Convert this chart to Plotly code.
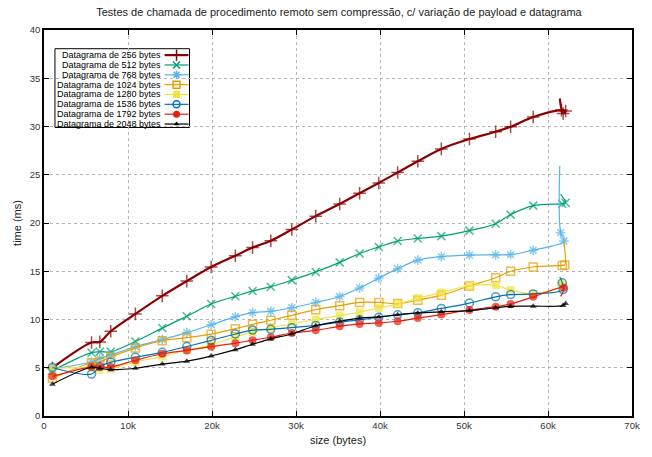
import plotly.graph_objects as go

# ---------------- data ----------------
x_main = [1000, 5660, 6640, 7950, 10880, 14080, 17000, 19900, 22780, 24830, 27000, 29500,
          32350, 35200, 37570, 39860, 42100, 44500, 47300, 50650, 53770, 55550, 58240]

names = ["Datagrama de 256 bytes", "Datagrama de 512 bytes", "Datagrama de 768 bytes",
         "Datagrama de 1024 bytes", "Datagrama de 1280 bytes", "Datagrama de 1536 bytes",
         "Datagrama de 1792 bytes", "Datagrama de 2048 bytes"]

y_256 = [5.0, 7.62, 7.68, 8.78, 10.58, 12.45, 13.98, 15.44, 16.6, 17.45, 18.16, 19.32,
         20.71, 21.97, 23.09, 24.15, 25.23, 26.4, 27.68, 28.7, 29.46, 29.97, 30.99]
y_512 = [4.7, 6.56, 6.66, 6.66, 7.72, 9.11, 10.34, 11.6, 12.4, 12.96, 13.4, 14.08,
         14.93, 15.92, 16.84, 17.52, 18.13, 18.4, 18.64, 19.21, 19.93, 20.87, 21.8]
y_768 = [4.9, 5.6, 5.95, 6.33, 7.18, 7.93, 8.64, 9.46, 10.28, 10.71, 10.85, 11.22,
         11.77, 12.38, 13.27, 14.29, 15.27, 16.15, 16.52, 16.68, 16.7, 16.73, 17.18]
y_1024 = [3.9, 5.52, 5.6, 6.12, 7.04, 7.8, 8.12, 8.48, 9.05, 9.5, 9.92, 10.43,
          11.02, 11.43, 11.77, 11.77, 11.65, 12.0, 12.52, 13.47, 14.32, 15.0, 15.44]
y_1280 = [4.95, 4.97, 4.8, 4.9, 5.6, 6.15, 6.84, 7.35, 8.2, 8.7, 9.13, 9.56,
          10.0, 10.41, 10.75, 11.19, 11.6, 12.21, 12.8, 13.5, 13.54, 13.05, 12.67]
y_1536 = [5.03, 4.35, 5.13, 5.56, 6.09, 6.6, 7.2, 7.84, 8.5, 8.9, 8.98, 9.15,
          9.39, 9.73, 9.97, 10.24, 10.48, 10.7, 11.15, 11.7, 12.35, 12.58, 12.65]
y_1792 = [4.11, 5.1, 5.08, 5.07, 5.78, 6.45, 6.8, 7.18, 7.55, 7.86, 8.16, 8.6,
          8.88, 9.29, 9.54, 9.65, 9.82, 10.15, 10.51, 10.99, 11.33, 11.6, 12.35]
y_2048 = [3.3, 5.05, 4.95, 4.8, 4.95, 5.38, 5.68, 6.22, 6.87, 7.43, 8.0, 8.5,
          9.35, 9.82, 10.14, 10.27, 10.5, 10.68, 10.8, 10.92, 11.22, 11.36, 11.38]

# final (repeated) measurements near the largest payload
end_x_256, end_y_256 = [61600, 62100, 61800], [31.7, 31.6, 31.35]
end_x_512, end_y_512 = [61700, 62100], [22.0, 22.1]
end_x_768, end_y_768 = [61900, 61500], [18.13, 19.0]
end_x_1024, end_y_1024 = [61700, 62000], [15.6, 15.65]
end_x_1280, end_y_1280 = [61800, 61600], [13.5, 13.7]
end_x_1536, end_y_1536 = [61800, 61700], [13.1, 13.8]
end_x_1792, end_y_1792 = [61900], [13.3]
end_x_2048, end_y_2048 = [61800, 62100], [11.45, 11.65]

# last sample of each run (line only)
tail_x = [61400, 61500, 61400, 61900, 61200, 61400, 61500, 61500]
tail_y = [32.9, 23.0, 25.9, 18.0, 13.9, 14.4, 12.4, 11.35]

x_ticks = [0, 10000, 20000, 30000, 40000, 50000, 60000, 70000]
y_ticks = [0, 5, 10, 15, 20, 25, 30, 35, 40]

# ---------------- style ----------------
colors = ["#8b0000", "#009e73", "#56b4e9", "#e69f00", "#f0e442", "#0072b2", "#e51e10", "#000000"]
symbols = ["cross-thin", "x-thin", "asterisk-open", "square-open", "square", "circle-open",
           "circle", "triangle-up"]
msizes = [9, 8, 8, 8, 8, 8, 8, 6]
lwidths = [2.2, 1.2, 1.2, 1.2, 1.2, 1.2, 1.2, 1.2]
OPEN = ("cross-thin", "x-thin", "asterisk-open", "square-open", "circle-open")

ys = [y_256, y_512, y_768, y_1024, y_1280, y_1536, y_1792, y_2048]
ends = [(end_x_256, end_y_256), (end_x_512, end_y_512), (end_x_768, end_y_768),
        (end_x_1024, end_y_1024), (end_x_1280, end_y_1280), (end_x_1536, end_y_1536),
        (end_x_1792, end_y_1792), (end_x_2048, end_y_2048)]

FONT = "Liberation Sans, Arial, sans-serif"
W, H = 652, 457
L, R, T, B = 44, 18, 30, 35
PW, PH = W - L - R, H - T - B

fig = go.Figure()

for i in range(len(names)):
    ex, ey = ends[i]
    xs = x_main + ex + [tail_x[i]]
    yv = ys[i] + ey + [tail_y[i]]
    n = len(xs)
    sizes = [msizes[i]] * (n - 1) + [0]
    fig.add_trace(go.Scatter(
        x=xs, y=yv, mode="lines+markers", name=names[i], showlegend=False,
        line=dict(color=colors[i], width=lwidths[i], shape="spline", smoothing=1),
        marker=dict(symbol=symbols[i], size=sizes, color=colors[i],
                    line=dict(color=colors[i], width=1.5 if symbols[i] in OPEN else 0)),
    ))

# ---------------- custom legend (gnuplot style: text right-aligned, sample at right) ----------------
box_l, box_r, box_t, box_b = 55, 190, 49, 129
row0, row_step = 55.5, 10.0
text_r, samp_l, samp_r = 163, 165, 189


def px(xp):
    return (xp - L) / PW


def py(yp):
    return (H - B - yp) / PH


fig.add_shape(type="rect", xref="paper", yref="paper", x0=px(box_l), x1=px(box_r),
              y0=py(box_b), y1=py(box_t), line=dict(color="black", width=1),
              fillcolor="white", layer="between")

for i, nm in enumerate(names):
    yy = py(row0 + row_step * i)
    fig.add_annotation(x=px(text_r), y=yy, xref="paper", yref="paper", text=nm,
                       showarrow=False, xanchor="right", yanchor="middle",
                       font=dict(family=FONT, size=9, color="#000"))
    fig.add_trace(go.Scatter(x=[px(samp_l), px(samp_r)], y=[yy, yy], xaxis="x2", yaxis="y2",
                             mode="lines", line=dict(color=colors[i], width=lwidths[i]),
                             showlegend=False, hoverinfo="skip"))
    fig.add_trace(go.Scatter(x=[px((samp_l + samp_r) / 2)], y=[yy], xaxis="x2", yaxis="y2",
                             mode="markers",
                             marker=dict(symbol=symbols[i], size=msizes[i] - 1, color=colors[i],
                                         line=dict(color=colors[i],
                                                   width=1.5 if symbols[i] in OPEN else 0)),
                             showlegend=False, hoverinfo="skip"))

axis_common = dict(showline=True, linecolor="black", linewidth=1.5, mirror="allticks",
                   ticks="inside", ticklen=5, tickcolor="black", tickwidth=1,
                   showgrid=True, gridcolor="#b4b4b4", griddash="dot", gridwidth=1,
                   zeroline=False, tickfont=dict(family=FONT, size=9.5, color="#333"))

fig.update_layout(
    width=W, height=H, margin=dict(l=L, r=R, t=T, b=B),
    paper_bgcolor="white", plot_bgcolor="white",
    title=dict(text="Testes de chamada de procedimento remoto sem compressão, c/ variação de payload e datagrama",
               x=(L + PW / 2) / W, xanchor="center", y=1 - 12 / H, yanchor="middle",
               font=dict(family=FONT, size=11, color="#222")),
    xaxis=dict(range=[0, 70000], tickvals=x_ticks, tickformat="~s",
               title=dict(text="size (bytes)", font=dict(family=FONT, size=11, color="#222"), standoff=6),
               **axis_common),
    yaxis=dict(range=[0, 40], tickvals=y_ticks,
               title=dict(text="time (ms)", font=dict(family=FONT, size=11, color="#222"), standoff=6),
               **axis_common),
    xaxis2=dict(overlaying="x", range=[0, 1], visible=False),
    yaxis2=dict(overlaying="y", range=[0, 1], visible=False),
    showlegend=False,
)

fig.write_html("out.html")
